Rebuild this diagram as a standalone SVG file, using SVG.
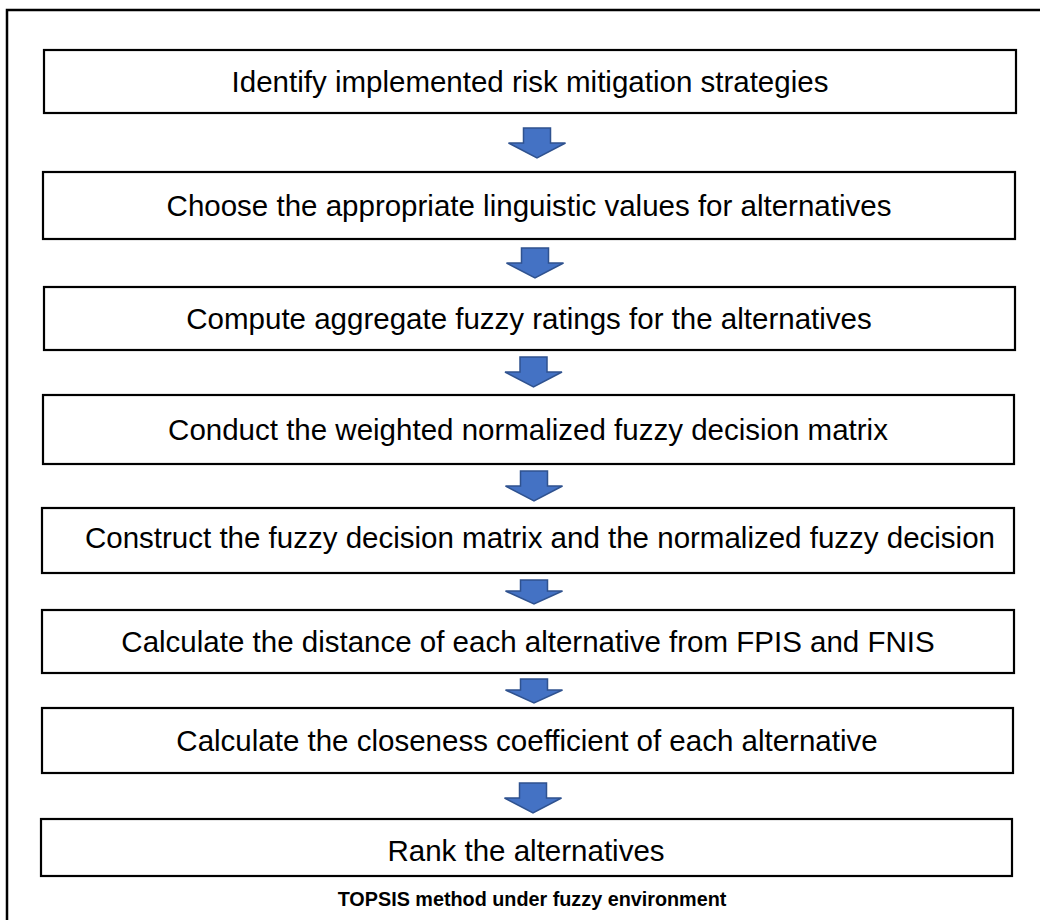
<svg xmlns="http://www.w3.org/2000/svg" width="1040" height="920" viewBox="0 0 1040 920">
  <style>
    .frame { fill: none; stroke: #000; stroke-width: 2.5; }
    .box { fill: #fff; stroke: #000; stroke-width: 2.2; }
    .label { font-family: "Liberation Sans", Arial, sans-serif; font-size: 29.5px; fill: #000; text-anchor: middle; }
    .caption { font-family: "Liberation Sans", Arial, sans-serif; font-size: 19.8px; font-weight: bold; fill: #000; text-anchor: middle; }
    .arrow { fill: #4472C4; stroke: #2F528F; stroke-width: 1.5; stroke-linejoin: miter; }
  </style>
  <defs>
    <!-- block arrow pointing down, origin at top centre, 57 wide x 30 tall -->
    <path id="down" class="arrow" d="M -13.5 0 L 13.5 0 L 13.5 15 L 28.5 15 L 0 30 L -28.5 15 L -13.5 15 Z"/>
    <path id="downShort" class="arrow" d="M -13.5 0 L 13.5 0 L 13.5 11 L 28.5 11 L 0 24 L -28.5 11 L -13.5 11 Z"/>
  </defs>

  <rect width="1040" height="920" fill="#fff"/>
  <!-- outer frame, runs off the right and bottom edges -->
  <rect class="frame" x="7" y="10" width="1060" height="940"/>

  <g id="step1">
    <rect class="box" x="44" y="50" width="972" height="63"/>
    <text class="label" x="530" y="92">Identify implemented risk mitigation strategies</text>
  </g>
  <g id="step2">
    <rect class="box" x="43" y="172" width="972" height="67"/>
    <text class="label" x="529" y="216">Choose the appropriate linguistic values for alternatives</text>
  </g>
  <g id="step3">
    <rect class="box" x="44" y="287" width="971" height="63"/>
    <text class="label" x="529" y="329">Compute aggregate fuzzy ratings for the alternatives</text>
  </g>
  <g id="step4">
    <rect class="box" x="43" y="395" width="971" height="69"/>
    <text class="label" x="528" y="440">Conduct the weighted normalized fuzzy decision matrix</text>
  </g>
  <g id="step5">
    <rect class="box" x="42" y="508" width="972" height="65"/>
    <text class="label" x="540" y="548">Construct the fuzzy decision matrix and the normalized fuzzy decision</text>
  </g>
  <g id="step6">
    <rect class="box" x="42" y="610" width="972" height="63"/>
    <text class="label" x="528" y="652">Calculate the distance of each alternative from FPIS and FNIS</text>
  </g>
  <g id="step7">
    <rect class="box" x="42" y="708" width="971" height="65"/>
    <text class="label" x="527" y="751">Calculate the closeness coefficient of each alternative</text>
  </g>
  <g id="step8">
    <rect class="box" x="41" y="819" width="971" height="57"/>
    <text class="label" x="526" y="861">Rank the alternatives</text>
  </g>

  <g id="connectors">
    <use href="#down" x="537" y="128"/>
    <use href="#down" x="535" y="248"/>
    <use href="#down" x="533.5" y="357"/>
    <use href="#down" x="534" y="471"/>
    <use href="#downShort" x="534" y="580"/>
    <use href="#downShort" x="534" y="679"/>
    <use href="#down" x="533" y="783"/>
  </g>

  <text id="caption" class="caption" x="532" y="906">TOPSIS method under fuzzy environment</text>
</svg>
